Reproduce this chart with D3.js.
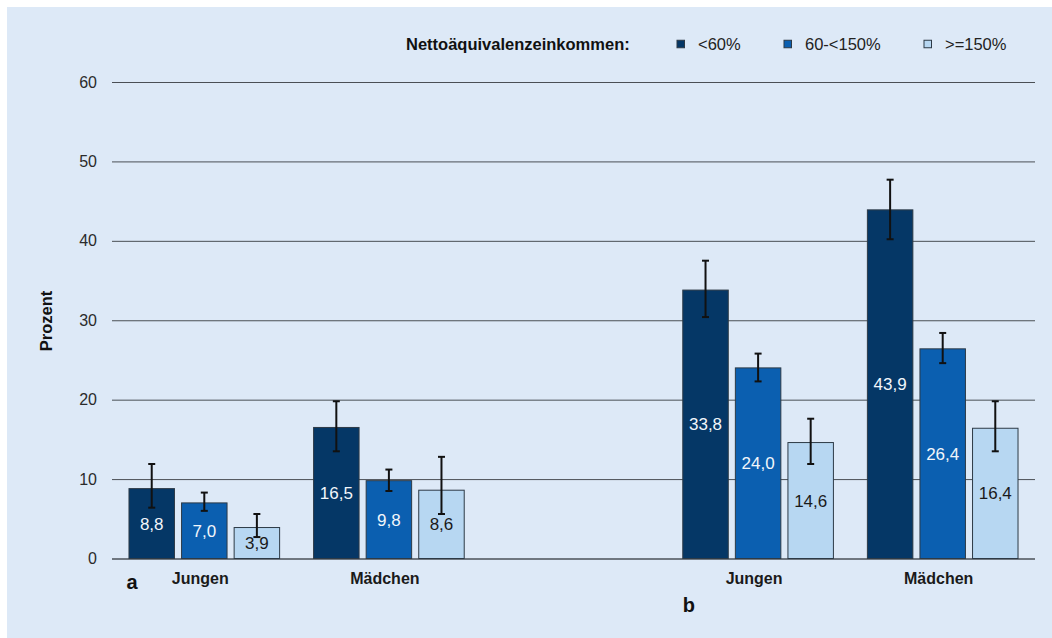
<!DOCTYPE html>
<html>
<head>
<meta charset="utf-8">
<script src="https://cdn.jsdelivr.net/npm/d3@7/dist/d3.min.js"></script>
<style>
  html, body { margin: 0; padding: 0; background: #ffffff; }
  svg { display: block; font-family: "Liberation Sans", Arial, sans-serif; }
</style>
</head>
<body>
<svg id="chart" width="1052" height="638"></svg>
<script>
// Slots along the x axis: two panels (a, b) with an empty slot between them
const slots = ["aJ", "aM", "gap", "bJ", "bM"];
const groups = ["aJ", "aM", "bJ", "bM"];
const groupLabels = ["Jungen", "Mädchen", "Jungen", "Mädchen"];
const seriesNames = ["<60%", "60-<150%", ">=150%"];

// Prevalence in percent per income group
const lowValues  = [8.8, 16.5, 33.8, 43.9];
const midValues  = [7.0, 9.8, 24.0, 26.4];
const highValues = [3.9, 8.6, 14.6, 16.4];

// 95% confidence intervals (lower, upper)
const lowLower  = [6.4, 13.5, 30.4, 40.2];
const lowUpper  = [11.9, 19.8, 37.5, 47.7];
const midLower  = [6.0, 8.5, 22.3, 24.6];
const midUpper  = [8.3, 11.2, 25.8, 28.4];
const highLower = [2.7, 5.6, 11.9, 13.5];
const highUpper = [5.6, 12.8, 17.6, 19.8];

const yTicks = [0, 10, 20, 30, 40, 50, 60];

const colors = ["#053766", "#0b5fb0", "#b7d7f2"];
const labelColors = ["#f2f6fb", "#f2f6fb", "#1a1a1a"];

const rows = [];
groups.forEach((g, i) => {
  rows.push({ group: g, s: 0, v: lowValues[i],  lo: lowLower[i],  hi: lowUpper[i] });
  rows.push({ group: g, s: 1, v: midValues[i],  lo: midLower[i],  hi: midUpper[i] });
  rows.push({ group: g, s: 2, v: highValues[i], lo: highLower[i], hi: highUpper[i] });
});

const svg = d3.select("#chart");
const W = 1052, H = 638;

// panel background
svg.append("rect").attr("x", 7).attr("y", 7).attr("width", W - 7).attr("height", H - 7)
  .attr("fill", "#dde9f7");

const plot = { left: 112, right: 1035, top: 82, bottom: 558.5 };

const x0 = d3.scaleBand().domain(slots).range([plot.left, plot.right]).paddingInner(0).paddingOuter(0);
const x1 = d3.scaleBand().domain(d3.range(3))
  .range([x0.bandwidth() * 0.092, x0.bandwidth() * 0.908])
  .paddingInner(0.135).paddingOuter(0);
const y = d3.scaleLinear().domain([0, 60]).range([plot.bottom, plot.top]);

// gridlines and y tick labels
const yAxis = d3.axisLeft(y).tickValues(yTicks).tickSize(-(plot.right - plot.left)).tickPadding(15);
const ga = svg.append("g").attr("transform", `translate(${plot.left},0)`).call(yAxis);
ga.select(".domain").remove();
ga.selectAll(".tick line").attr("stroke", d => d === 0 ? "#6f7780" : "#4a4f55")
  .attr("stroke-width", d => d === 0 ? 2 : 1);
ga.selectAll(".tick text").attr("fill", "#2b2b2b").style("font-size", "16px")
  .style("font-family", "Liberation Sans, Arial, sans-serif");

// bars
const barG = svg.append("g");
barG.selectAll("rect").data(rows).join("rect")
  .attr("x", d => x0(d.group) + x1(d.s))
  .attr("y", d => y(d.v))
  .attr("width", x1.bandwidth())
  .attr("height", d => y(0) - y(d.v))
  .attr("fill", d => colors[d.s])
  .attr("stroke", "#2d3a46")
  .attr("stroke-width", 1);

// value labels centred in each bar
barG.selectAll("text").data(rows).join("text")
  .attr("x", d => x0(d.group) + x1(d.s) + x1.bandwidth() / 2)
  .attr("y", d => (y(d.v) + y(0)) / 2)
  .attr("dy", "0.36em")
  .attr("text-anchor", "middle")
  .attr("fill", d => labelColors[d.s])
  .style("font-size", "17px")
  .text(d => d.v.toFixed(1).replace(".", ","));

// error bars
const errG = svg.append("g").attr("stroke", "#111").attr("stroke-width", 2);
const cap = 3.5;
rows.forEach(d => {
  const cx = x0(d.group) + x1(d.s) + x1.bandwidth() / 2;
  errG.append("line").attr("x1", cx).attr("x2", cx).attr("y1", y(d.lo)).attr("y2", y(d.hi));
  errG.append("line").attr("x1", cx - cap).attr("x2", cx + cap).attr("y1", y(d.lo)).attr("y2", y(d.lo));
  errG.append("line").attr("x1", cx - cap).attr("x2", cx + cap).attr("y1", y(d.hi)).attr("y2", y(d.hi));
});

// category labels
svg.append("g").selectAll("text").data(groups).join("text")
  .attr("x", g => x0(g) + x0.bandwidth() / 2 - 4)
  .attr("y", 584)
  .attr("text-anchor", "middle")
  .attr("fill", "#1a1a1a")
  .style("font-size", "16px").style("font-weight", "bold")
  .text((g, i) => groupLabels[i]);

// panel letters
svg.append("text").attr("x", x0("aJ") + 20).attr("y", 589).attr("text-anchor", "middle")
  .style("font-size", "20px").style("font-weight", "bold").attr("fill", "#111").text("a");
svg.append("text").attr("x", x0("bJ") + 23).attr("y", 612).attr("text-anchor", "middle")
  .style("font-size", "20px").style("font-weight", "bold").attr("fill", "#111").text("b");

// y axis title
svg.append("text")
  .attr("transform", `translate(52,321) rotate(-90)`)
  .attr("text-anchor", "middle")
  .style("font-size", "16.5px").style("font-weight", "bold").attr("fill", "#111")
  .text("Prozent");

// legend
const leg = svg.append("g").attr("transform", "translate(0,44)");
leg.append("text").attr("x", 406).attr("dy", "0.36em")
  .style("font-size", "16.5px").style("font-weight", "bold").attr("fill", "#111")
  .text("Nettoäquivalenzeinkommen:");
const legX = [677, 784, 924];
seriesNames.forEach((name, i) => {
  leg.append("rect").attr("x", legX[i]).attr("y", -3.75).attr("width", 7.5).attr("height", 7.5)
    .attr("fill", colors[i]).attr("stroke", "#2d3a46").attr("stroke-width", 1);
  leg.append("text").attr("x", legX[i] + 21).attr("dy", "0.36em")
    .style("font-size", "16.5px").attr("fill", "#222").text(name);
});
</script>
</body>
</html>
